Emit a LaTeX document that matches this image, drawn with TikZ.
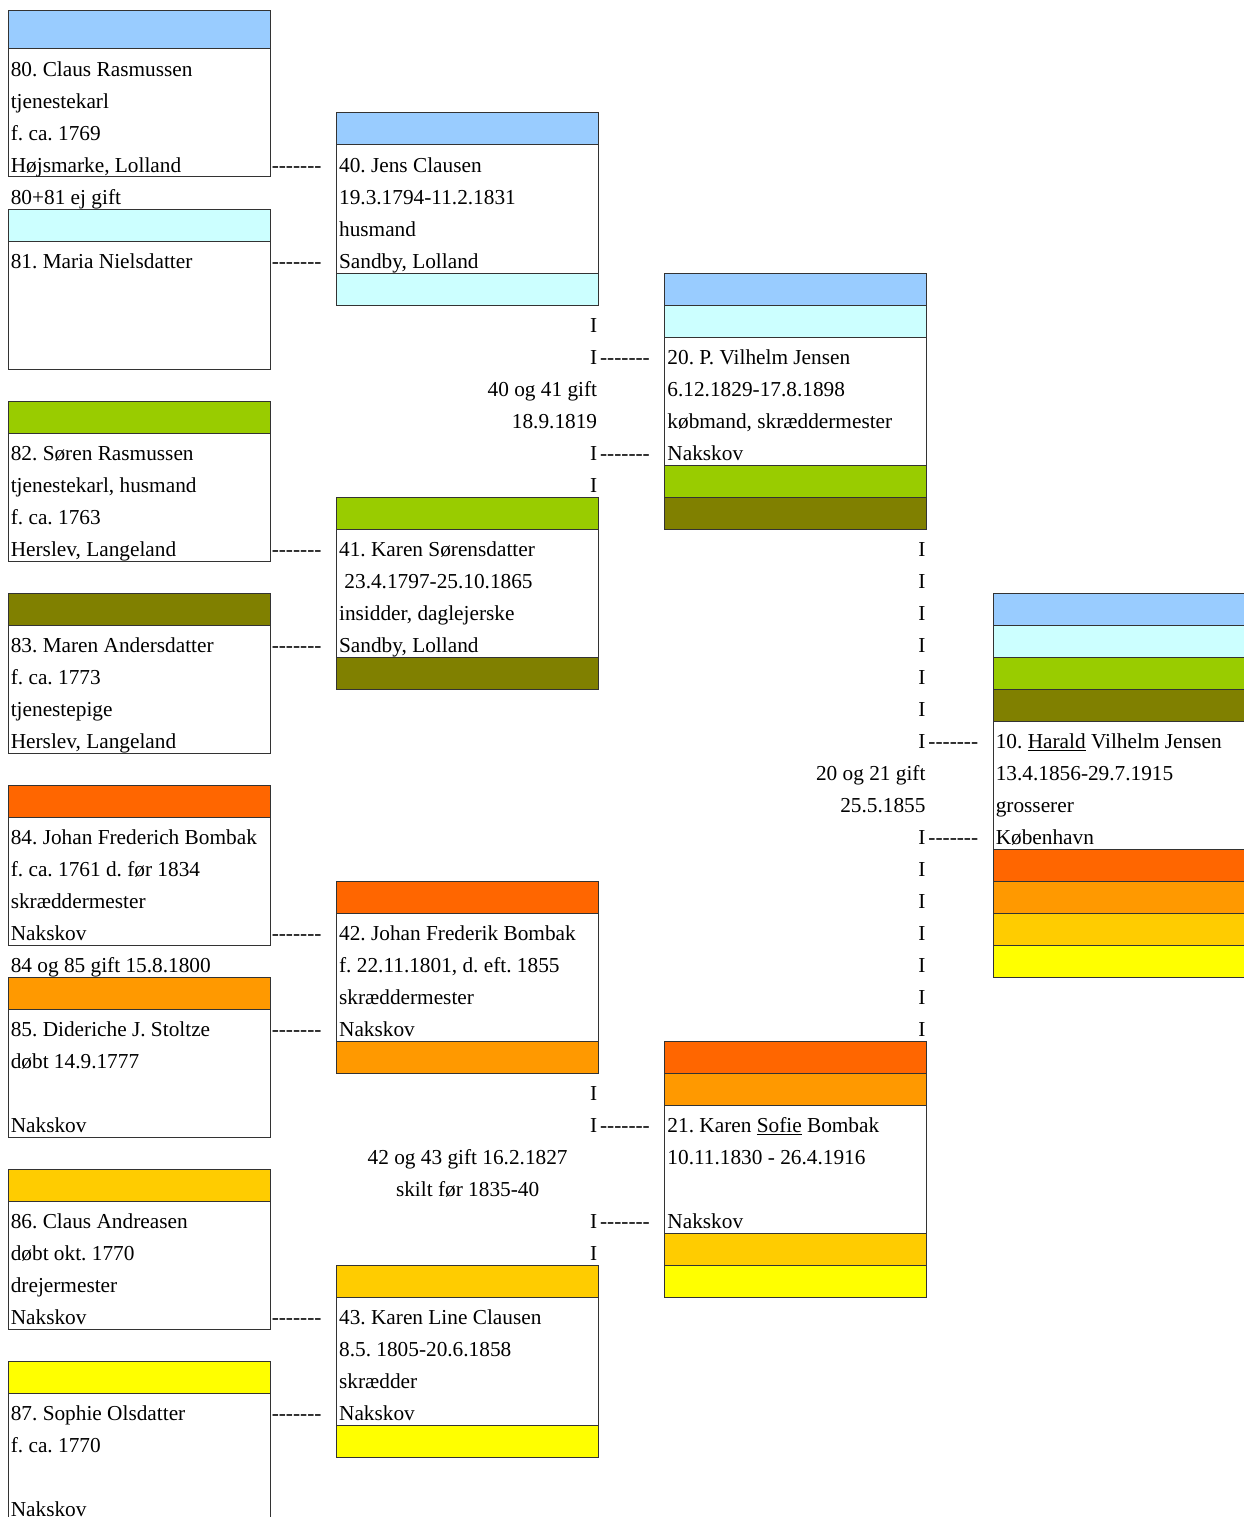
\documentclass[tikz,border=0pt]{standalone}
\usepackage{fontspec}
\setmainfont{Liberation Serif}
\frenchspacing
\definecolor{c1}{HTML}{99CCFF}
\definecolor{c2}{HTML}{CCFFFF}
\definecolor{c3}{HTML}{99CC00}
\definecolor{c4}{HTML}{808000}
\definecolor{c5}{HTML}{FF6600}
\definecolor{c6}{HTML}{FF9900}
\definecolor{c7}{HTML}{FFCC00}
\definecolor{c8}{HTML}{FFFF00}
\tikzset{
  gridline/.style={draw=black!80, line width=1pt},
  txt/.style={inner sep=0pt, outer sep=0pt, font=\fontsize{21.3}{25}\selectfont\frenchspacing},
}
\newcommand{\hy}{-\kern0pt-\kern0pt-\kern0pt-\kern0pt-\kern0pt-\kern0pt-}
% colored band: col, row, colour
\newcommand{\cband}[3]{%
  \pgfmathsetmacro\cx{8.3+328.33*#1}\pgfmathsetmacro\cy{17+32*#2}%
  \fill[#3] (\cx,\cy) rectangle ++(262,32);
  \draw[gridline] (\cx,\cy) rectangle ++(262,32);}
% person box outline: col, top row, bottom row (exclusive)
\newcommand{\pbox}[3]{%
  \pgfmathsetmacro\cx{8.3+328.33*#1}\pgfmathsetmacro\cya{17+32*#2}\pgfmathsetmacro\cyb{17+32*#3}%
  \draw[gridline] (\cx,\cya) rectangle (\cx+262,\cyb);}
% texts
\newcommand{\tl}[3]{%
  \pgfmathsetmacro\cx{8.3+328.33*#1+2.5}\pgfmathsetmacro\cy{17+32*#2+27.5}%
  \node[txt,anchor=base west] (t#1-#2) at (\cx,\cy) {#3};}
\newcommand{\tr}[3]{%
  \pgfmathsetmacro\cx{8.3+328.33*#1+260.5}\pgfmathsetmacro\cy{17+32*#2+27.5}%
  \node[txt,anchor=base east] (t#1-#2) at (\cx,\cy) {#3};}
\newcommand{\tc}[3]{%
  \pgfmathsetmacro\cx{8.3+328.33*#1+131}\pgfmathsetmacro\cy{17+32*#2+27.5}%
  \node[txt,anchor=base] (t#1-#2) at (\cx,\cy) {#3};}
\newcommand{\dsh}[2]{%
  \pgfmathsetmacro\cx{8.3+328.33*#1+263.5}\pgfmathsetmacro\cy{17+32*#2+27.5}%
  \node[txt,anchor=base west] (d#1-#2) at (\cx,\cy) {\hy};}
\begin{document}
\begin{tikzpicture}[x=1pt,y=-1pt]
\clip (0,0) rectangle (1244,1517);
\fill[white] (0,0) rectangle (1244,1517);

% ---------- column A ----------
\fill[c1] (8.3,11) rectangle (270.3,49);
\draw[gridline] (8.3,11) rectangle (270.3,49);
\draw[gridline] (8.3,11) rectangle (270.3,177);
\tl{0}{1}{80. Claus Rasmussen}
\tl{0}{2}{tjenestekarl}
\tl{0}{3}{f. ca. 1769}
\tl{0}{4}{Højsmarke, Lolland}
\tl{0}{5}{80+81 ej gift}
\cband{0}{6}{c2}\pbox{0}{6}{11}
\tl{0}{7}{81. Maria Nielsdatter}
\cband{0}{12}{c3}\pbox{0}{12}{17}
\tl{0}{13}{82. Søren Rasmussen}
\tl{0}{14}{tjenestekarl, husmand}
\tl{0}{15}{f. ca. 1763}
\tl{0}{16}{Herslev, Langeland}
\cband{0}{18}{c4}\pbox{0}{18}{23}
\tl{0}{19}{83. Maren Andersdatter}
\tl{0}{20}{f. ca. 1773}
\tl{0}{21}{tjenestepige}
\tl{0}{22}{Herslev, Langeland}
\cband{0}{24}{c5}\pbox{0}{24}{29}
\tl{0}{25}{84. Johan Frederich Bombak}
\tl{0}{26}{f. ca. 1761 d. før 1834}
\tl{0}{27}{skræddermester}
\tl{0}{28}{Nakskov}
\tl{0}{29}{84 og 85 gift 15.8.1800}
\cband{0}{30}{c6}\pbox{0}{30}{35}
\tl{0}{31}{85. Dideriche J. Stoltze}
\tl{0}{32}{døbt 14.9.1777}
\tl{0}{34}{Nakskov}
\cband{0}{36}{c7}\pbox{0}{36}{41}
\tl{0}{37}{86. Claus Andreasen}
\tl{0}{38}{døbt okt. 1770}
\tl{0}{39}{drejermester}
\tl{0}{40}{Nakskov}
\cband{0}{42}{c8}\pbox{0}{42}{48}
\tl{0}{43}{87. Sophie Olsdatter}
\tl{0}{44}{f. ca. 1770}
\tl{0}{46}{Nakskov}
\foreach \r in {4,7,16,19,28,31,40,43} {\dsh{0}{\r}}

% ---------- column B ----------
\cband{1}{3}{c1}\cband{1}{8}{c2}\pbox{1}{3}{9}
\tl{1}{4}{40. Jens Clausen}
\tl{1}{5}{19.3.1794-11.2.1831}
\tl{1}{6}{husmand}
\tl{1}{7}{Sandby, Lolland}
\tr{1}{9}{I}\tr{1}{10}{I}\tr{1}{13}{I}\tr{1}{14}{I}
\tr{1}{11}{40 og 41 gift}
\tr{1}{12}{18.9.1819}
\cband{1}{15}{c3}\cband{1}{20}{c4}\pbox{1}{15}{21}
\tl{1}{16}{41. Karen Sørensdatter}
\tl{1}{17}{\ 23.4.1797-25.10.1865}
\tl{1}{18}{insidder, daglejerske}
\tl{1}{19}{Sandby, Lolland}
\cband{1}{27}{c5}\cband{1}{32}{c6}\pbox{1}{27}{33}
\tl{1}{28}{42. Johan Frederik Bombak}
\tl{1}{29}{f. 22.11.1801, d. eft. 1855}
\tl{1}{30}{skræddermester}
\tl{1}{31}{Nakskov}
\tr{1}{33}{I}\tr{1}{34}{I}\tr{1}{37}{I}\tr{1}{38}{I}
\tc{1}{35}{42 og 43 gift 16.2.1827}
\tc{1}{36}{skilt før 1835-40}
\cband{1}{39}{c7}\cband{1}{44}{c8}\pbox{1}{39}{45}
\tl{1}{40}{43. Karen Line Clausen}
\tl{1}{41}{8.5. 1805-20.6.1858}
\tl{1}{42}{skrædder}
\tl{1}{43}{Nakskov}
\foreach \r in {10,13,34,37} {\dsh{1}{\r}}

% ---------- column C ----------
\cband{2}{8}{c1}\cband{2}{9}{c2}\cband{2}{14}{c3}\cband{2}{15}{c4}\pbox{2}{8}{16}
\tl{2}{10}{20. P. Vilhelm Jensen}
\tl{2}{11}{6.12.1829-17.8.1898}
\tl{2}{12}{købmand, skræddermester}
\tl{2}{13}{Nakskov}
\foreach \r in {16,...,22,25,26,...,31} {\tr{2}{\r}{I}}
\tr{2}{23}{20 og 21 gift}
\tr{2}{24}{25.5.1855}
\cband{2}{32}{c5}\cband{2}{33}{c6}\cband{2}{38}{c7}\cband{2}{39}{c8}\pbox{2}{32}{40}
\tl{2}{34}{21. Karen \underline{Sofie} Bombak}
\tl{2}{35}{10.11.1830 - 26.4.1916}
\tl{2}{37}{Nakskov}
\foreach \r in {22,25} {\dsh{2}{\r}}

% ---------- column D ----------
\cband{3}{18}{c1}\cband{3}{19}{c2}\cband{3}{20}{c3}\cband{3}{21}{c4}
\cband{3}{26}{c5}\cband{3}{27}{c6}\cband{3}{28}{c7}\cband{3}{29}{c8}\pbox{3}{18}{30}
\tl{3}{22}{10. \underline{Harald} Vilhelm Jensen}
\tl{3}{23}{13.4.1856-29.7.1915}
\tl{3}{24}{grosserer}
\tl{3}{25}{København}
\end{tikzpicture}
\end{document}
